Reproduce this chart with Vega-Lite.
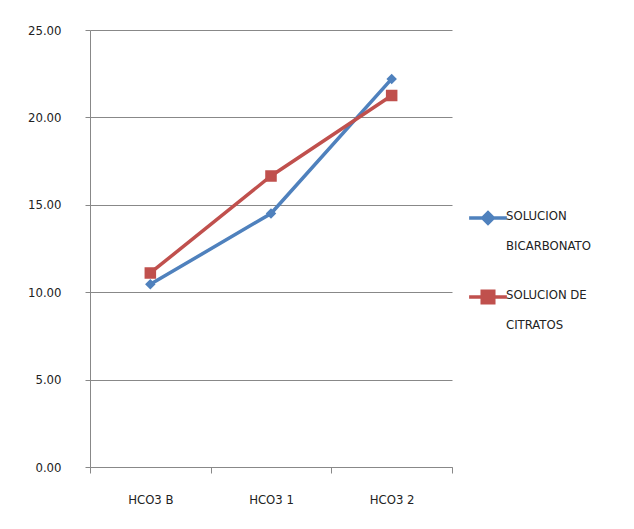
{
  "$schema": "https://vega.github.io/schema/vega-lite/v6.json",
  "autosize": {"type": "none"},
  "width": 362,
  "height": 437,
  "padding": {"left": 90, "top": 30, "right": 182, "bottom": 62},
  "background": "white",
  "config": {
    "view": {"stroke": null},
    "font": "DejaVu Sans Condensed, Liberation Sans, sans-serif",
    "axis": {"labelFont": "DejaVu Sans Condensed, Liberation Sans, sans-serif", "labelColor": "#222222", "labelFontSize": 13},
    "legend": {
      "title": null, "orient": "none", "legendX": 391, "legendY": 181,
      "labelFont": "DejaVu Sans Condensed, Liberation Sans, sans-serif", "labelFontSize": 13, "labelColor": "#222222",
      "labelOffset": 11, "rowPadding": 31, "symbolSize": 110, "symbolStrokeWidth": 3.5, "labelBaseline": "top"
    }
  },
  "data": {
    "values": [
      {"cat": "HCO3 B", "series": "SOLUCION BICARBONATO", "value": 10.45},
      {"cat": "HCO3 1", "series": "SOLUCION BICARBONATO", "value": 14.5},
      {"cat": "HCO3 2", "series": "SOLUCION BICARBONATO", "value": 22.2},
      {"cat": "HCO3 B", "series": "SOLUCION DE CITRATOS", "value": 11.1},
      {"cat": "HCO3 1", "series": "SOLUCION DE CITRATOS", "value": 16.65},
      {"cat": "HCO3 2", "series": "SOLUCION DE CITRATOS", "value": 21.25}
    ]
  },
  "encoding": {
    "x": {
      "field": "cat", "type": "nominal", "sort": ["HCO3 B", "HCO3 1", "HCO3 2"],
      "bandPosition": 0.5,
      "scale": {"type": "band", "paddingInner": 0, "paddingOuter": 0},
      "axis": {"title": null, "labelAngle": 0, "tickBand": "extent", "domainColor": "#888888", "tickColor": "#888888", "tickSize": 6, "labelPadding": 20, "grid": false}
    },
    "y": {
      "field": "value", "type": "quantitative",
      "scale": {"domain": [0, 25], "nice": false},
      "axis": {"title": null, "values": [0, 5, 10, 15, 20, 25], "format": ".2f", "grid": true, "gridColor": "#888888", "gridOpacity": 1, "domainColor": "#888888", "tickColor": "#888888", "tickSize": 5, "labelPadding": 24}
    },
    "color": {"field": "series", "type": "nominal",
      "scale": {"domain": ["SOLUCION BICARBONATO", "SOLUCION DE CITRATOS"], "range": ["#4F81BD", "#C0504D"]},
      "legend": {
        "labelExpr": "datum.label == 'SOLUCION BICARBONATO' ? ['SOLUCION', 'BICARBONATO'] : ['SOLUCION DE', 'CITRATOS']",
        "encode": {"labels": {"update": {"lineHeight": {"value": 30}, "dy": {"value": -8}}}}
      }
    }
  },
  "layer": [
    {
      "mark": {"type": "line", "strokeWidth": 3.5}
    },
    {
      "mark": {"type": "point", "filled": true, "opacity": 1, "strokeWidth": 0, "size": 110},
      "encoding": {
        "shape": {"field": "series", "type": "nominal",
          "scale": {"domain": ["SOLUCION BICARBONATO", "SOLUCION DE CITRATOS"], "range": ["M0,-1L1,0L0,1L-1,0Z M-3.6,0H3.6", "M-1.1,-1.1H1.1V1.1H-1.1Z M-3.6,0H3.6"]},
          "legend": {
            "labelExpr": "datum.label == 'SOLUCION BICARBONATO' ? ['SOLUCION', 'BICARBONATO'] : ['SOLUCION DE', 'CITRATOS']",
            "encode": {"labels": {"update": {"lineHeight": {"value": 30}, "dy": {"value": -8}}}}
          }
        }
      }
    }
  ]
}
